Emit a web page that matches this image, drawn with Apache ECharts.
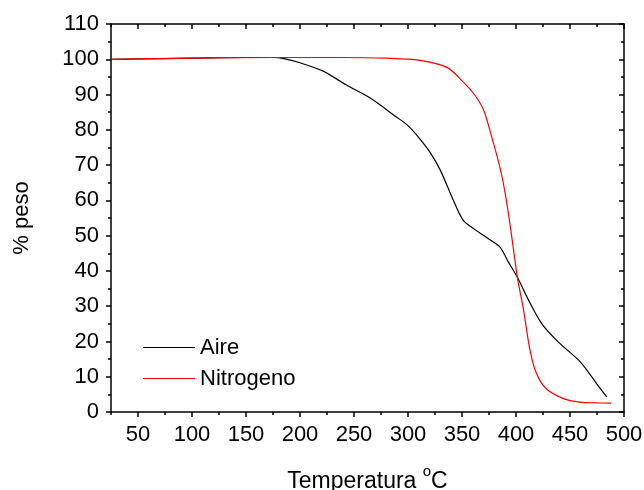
<!DOCTYPE html>
<html>
<head>
<meta charset="utf-8">
<script src="https://cdn.jsdelivr.net/npm/echarts@6/dist/echarts.min.js"></script>
<style>
  html, body { margin: 0; padding: 0; background: #fff; }
  #chart { width: 644px; height: 490px; }
</style>
</head>
<body>
<div id="chart"></div>
<script>
// temperature (°C) / weight (%)
const aireTemp = [25, 50, 100, 150, 175, 185, 200, 221, 243, 265, 289, 300, 310, 320, 330, 342, 351, 362, 375, 385, 393, 402, 412, 424, 439, 458, 468, 476, 484];
const aireWeight = [100.0, 100.1, 100.3, 100.5, 100.5, 100.2, 99.0, 96.7, 92.7, 89.0, 83.7, 81.2, 77.8, 73.8, 68.5, 60.0, 54.4, 51.7, 49.0, 46.8, 42.5, 37.8, 31.5, 25.0, 19.9, 14.7, 10.9, 7.5, 4.3];

const n2Temp = [25, 100, 175, 240, 280, 311, 336, 351, 362, 370, 377.5, 385, 390, 395, 401.5, 407, 413, 419, 428, 444, 459, 475, 488];
const n2Weight = [100.0, 100.3, 100.5, 100.5, 100.3, 99.7, 97.7, 93.6, 89.8, 85.6, 78.0, 69.5, 62.0, 52.0, 37.8, 28.9, 17.5, 10.9, 6.6, 3.8, 2.8, 2.6, 2.5];

const seriesNames = ['Aire', 'Nitrogeno'];
const seriesColors = ['#000000', '#ff0000'];

// x tick positions
const xMajor = [50, 100, 150, 200, 250, 300, 350, 400, 450, 500];
const xMinor = [25, 75, 125, 175, 225, 275, 325, 375, 425, 475];

const zip = (xs, ys) => xs.map((x, i) => [x, ys[i]]);

const chart = echarts.init(document.getElementById('chart'));
const font = 'Liberation Sans, Arial, sans-serif';
const axisLine = { lineStyle: { color: '#000', width: 1.5 } };
const tickStyle = { color: '#000', width: 1.5 };

// one x axis = ticks at given values, optional labels
function xAx(pos, values, len, inside, labels, line) {
  return {
    type: 'value', position: pos, min: 25, max: 500,
    axisLine: line ? axisLine : { show: false },
    axisTick: { customValues: values, inside: inside, length: len, lineStyle: tickStyle },
    axisLabel: labels
      ? { customValues: values, fontFamily: font, fontSize: 22, color: '#000', margin: 12 }
      : { show: false },
    splitLine: { show: false }
  };
}

const bottom = xAx('bottom', xMajor, 5, false, true, true);
bottom.name = 'Temperatura {sup|o}C';
bottom.nameLocation = 'middle';
bottom.nameGap = 52;
// tall line box so the small "o" sits up at the top as a superscript
bottom.nameTextStyle = {
  fontFamily: font, fontSize: 23, lineHeight: 36, color: '#000',
  rich: { sup: { fontFamily: font, fontSize: 15, lineHeight: 15, color: '#000', verticalAlign: 'top' } }
};

chart.setOption({
  animation: false,
  grid: { left: 111, right: 20, top: 24, bottom: 78, containLabel: false, outerBoundsMode: 'none' },
  legend: {
    left: 138, top: 330, orient: 'vertical',
    icon: 'rect', itemWidth: 52, itemHeight: 1.2, itemGap: 6,
    textStyle: { fontFamily: font, fontSize: 22, color: '#000', lineHeight: 25 },
    data: seriesNames
  },
  xAxis: [
    bottom,
    xAx('bottom', xMinor, 3, false, false, false),
    xAx('top', xMajor, 5, true, false, true),
    xAx('top', xMinor, 3, true, false, false)
  ],
  yAxis: [{
    type: 'value', min: 0, max: 110, interval: 10,
    axisLabel: { fontFamily: font, fontSize: 22, color: '#000', margin: 12 },
    name: '% peso', nameLocation: 'middle', nameGap: 78,
    nameTextStyle: { fontFamily: font, fontSize: 22, color: '#000' },
    axisLine: axisLine,
    axisTick: { inside: false, length: 5, lineStyle: tickStyle },
    minorTick: { show: true, splitNumber: 2, length: 3, lineStyle: tickStyle },
    splitLine: { show: false }
  }, {
    type: 'value', position: 'right', min: 0, max: 110, interval: 10,
    axisLabel: { show: false },
    axisLine: axisLine,
    axisTick: { inside: true, length: 5, lineStyle: tickStyle },
    minorTick: { show: true, splitNumber: 2, length: 3, lineStyle: tickStyle },
    splitLine: { show: false }
  }],
  series: [
    {
      name: seriesNames[0], type: 'line', data: zip(aireTemp, aireWeight),
      symbol: 'none', smooth: 0.3, color: seriesColors[0],
      lineStyle: { color: seriesColors[0], width: 1.2 }
    },
    {
      name: seriesNames[1], type: 'line', data: zip(n2Temp, n2Weight),
      symbol: 'none', smooth: 0.3, color: seriesColors[1],
      lineStyle: { color: seriesColors[1], width: 1.2 }
    }
  ]
});
</script>
</body>
</html>
